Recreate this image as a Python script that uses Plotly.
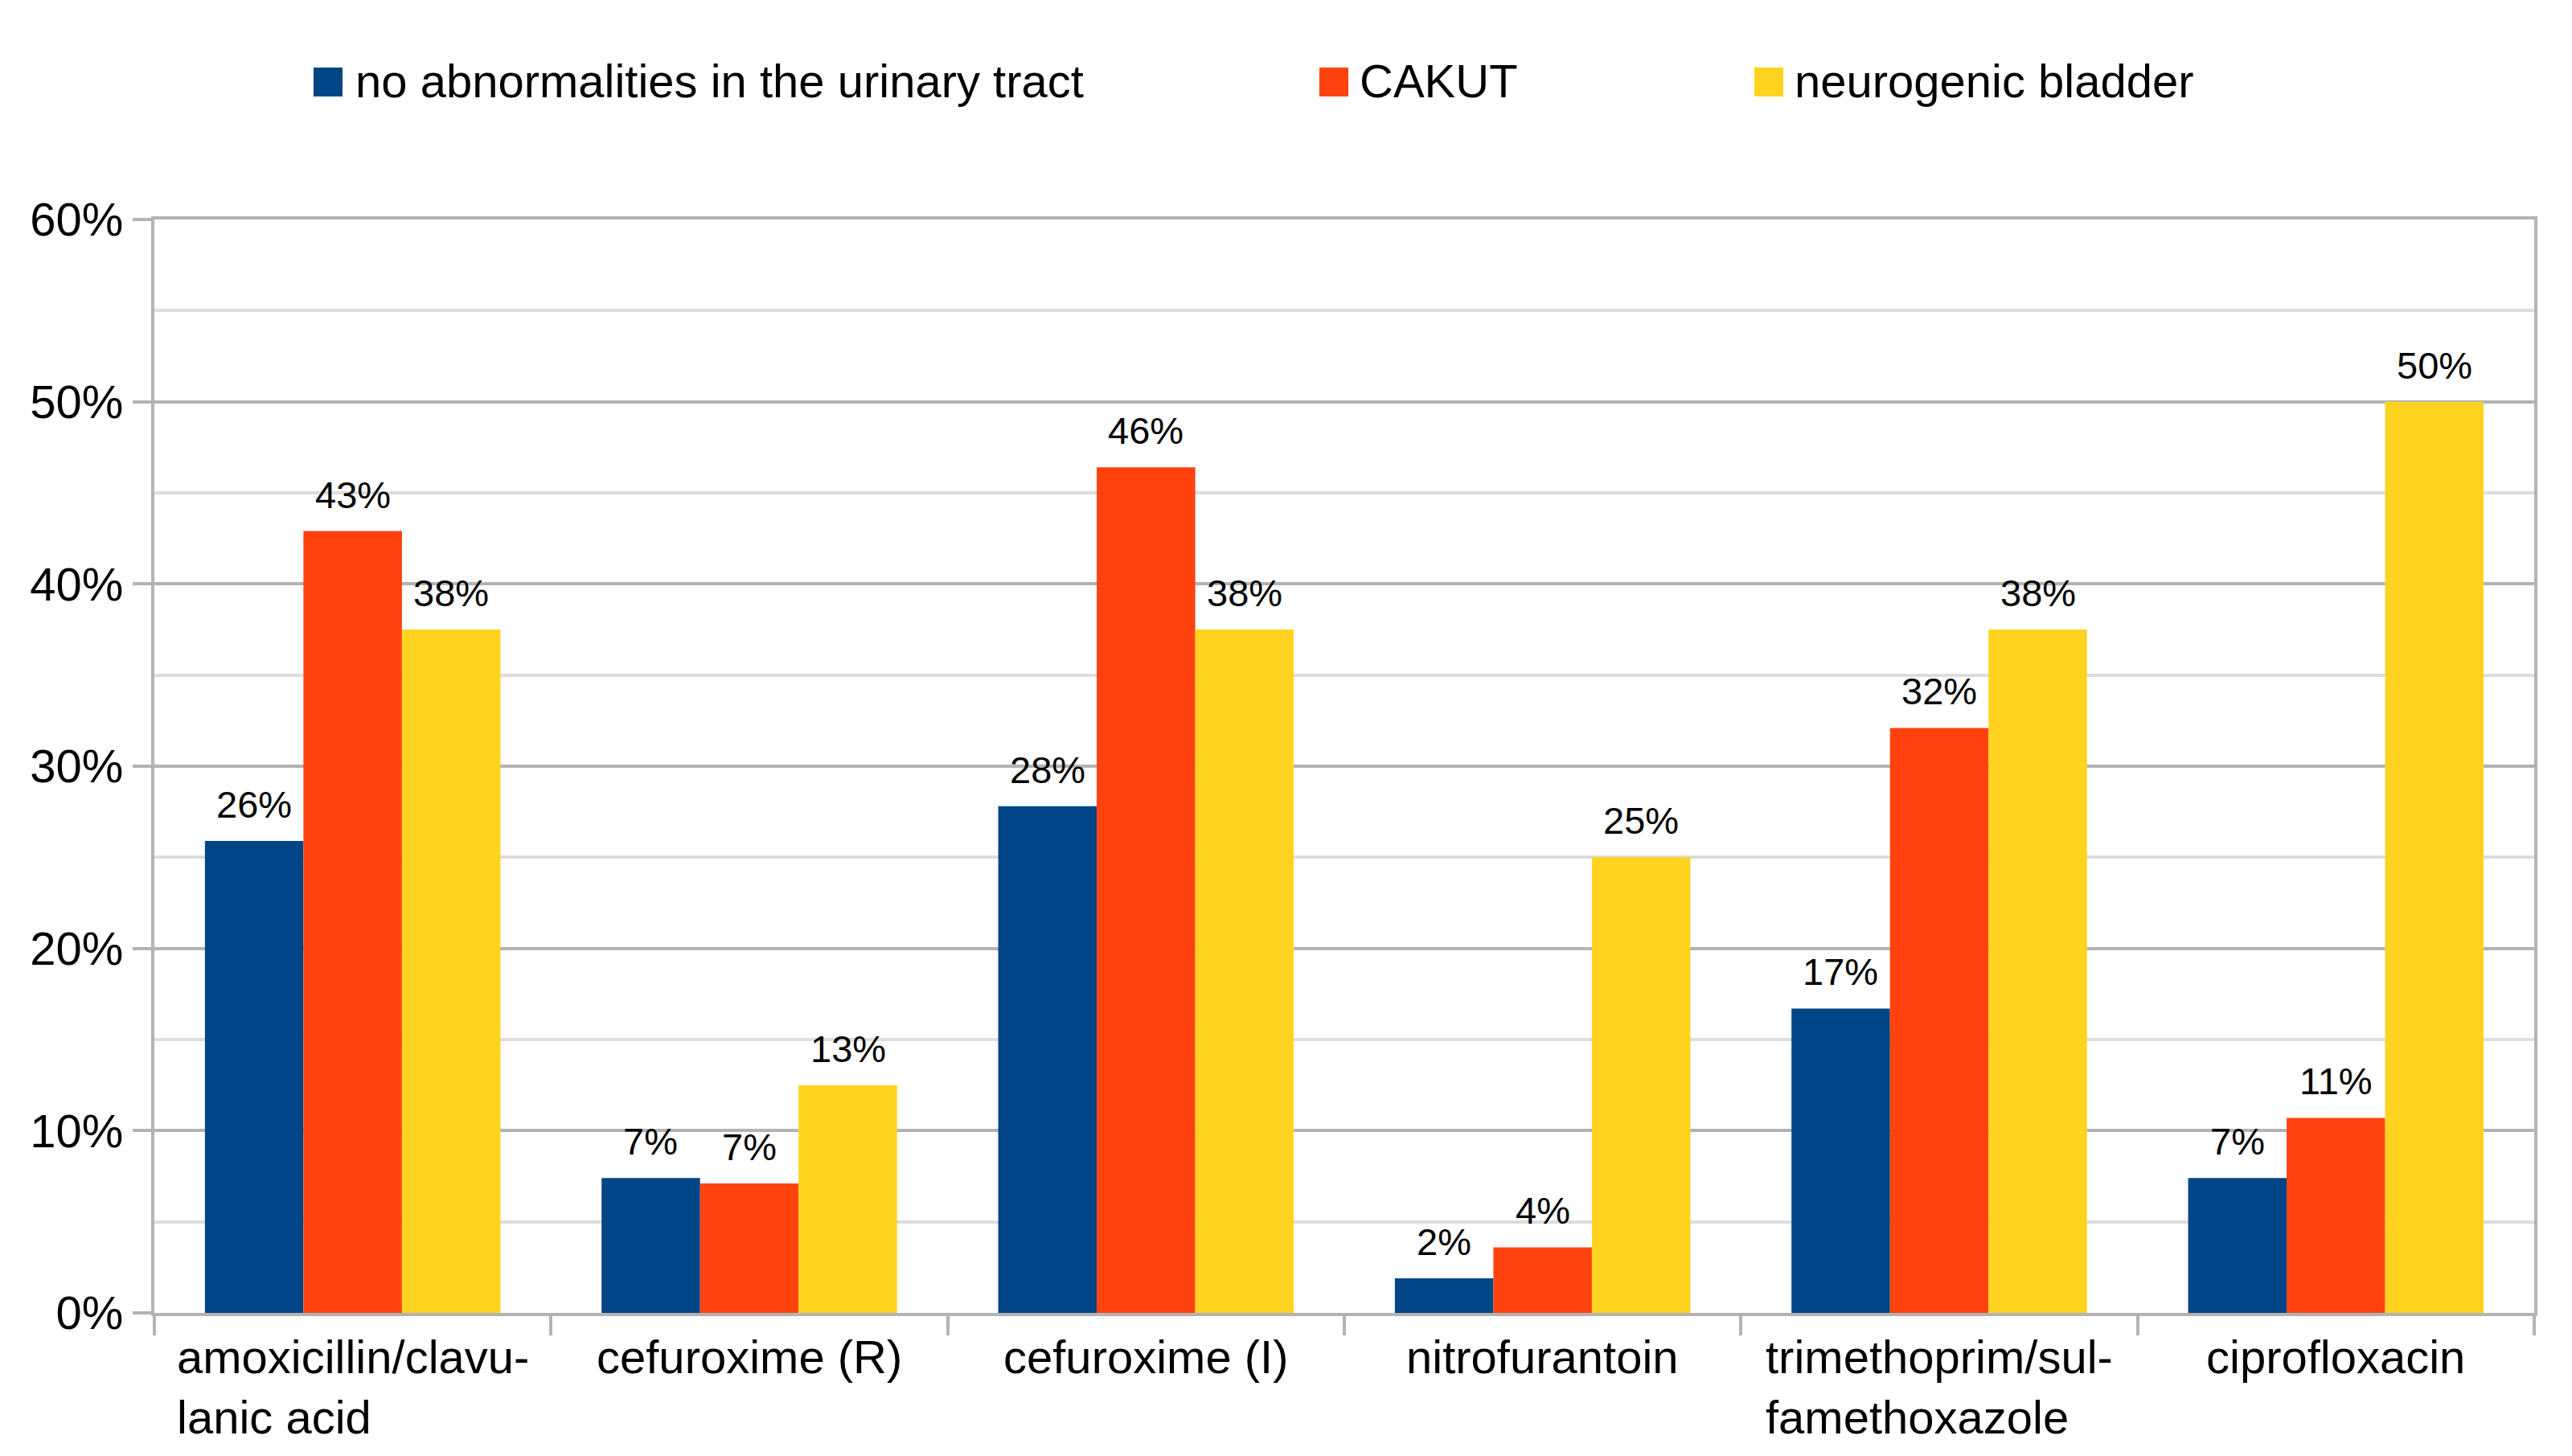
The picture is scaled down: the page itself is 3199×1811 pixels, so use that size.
import plotly.graph_objects as go

categories = ["amoxicillin/clavulanic acid", "cefuroxime (R)", "cefuroxime (I)",
              "nitrofurantoin", "trimethoprim/sulfamethoxazole", "ciprofloxacin"]
category_labels = ["amoxicillin/clavu-<br>lanic acid", "cefuroxime (R)", "cefuroxime (I)",
                   "nitrofurantoin", "trimethoprim/sul-<br>famethoxazole", "ciprofloxacin"]
series_names = ["no abnormalities in the urinary tract", "CAKUT", "neurogenic bladder"]
no_abnormalities = [0.259, 0.074, 0.278, 0.019, 0.167, 0.074]
cakut = [0.429, 0.071, 0.464, 0.036, 0.321, 0.107]
neurogenic_bladder = [0.375, 0.125, 0.375, 0.25, 0.375, 0.5]
y_tickvals = [0, 0.1, 0.2, 0.3, 0.4, 0.5, 0.6]

colors = ["#004586", "#ff420e", "#ffd320"]
FONT = "Liberation Sans"

W, H = 3199, 1811
ml, mr, mt, mb = 184, 55, 265, 186
pw = W - ml - mr
ph = H - mt - mb
BARGAP = 0.255

def px_x(p):
    return (p - ml) / pw

def px_y(p):
    return (H - mb - p) / ph

series = [no_abnormalities, cakut, neurogenic_bladder]
nser = len(series)
bw = (1 - BARGAP) / nser

fig = go.Figure()
annotations = []
shapes = []
for i, (name, vals, col) in enumerate(zip(series_names, series, colors)):
    fig.add_trace(go.Bar(
        x=categories, y=vals, name=name,
        marker=dict(color=col, line=dict(width=0)),
        showlegend=False,
    ))
    # value labels above each bar
    for j, v in enumerate(vals):
        annotations.append(dict(
            x=j + (i - (nser - 1) / 2) * bw, xref="x", y=v, yref="y",
            yanchor="bottom", xanchor="center", yshift=17,
            text=f"{round(v * 100 + 1e-9):.0f}%", showarrow=False,
            font=dict(family=FONT, size=47, color="#000000"),
        ))

# legend (squares + labels)
leg_sq = [382, 1633, 2174]
leg_txt = [432, 1681, 2222]
for name, col, sx, tx in zip(series_names, colors, leg_sq, leg_txt):
    shapes.append(dict(type="rect", xref="paper", yref="paper",
                       x0=px_x(sx), x1=px_x(sx + 36), y0=px_y(112), y1=px_y(76),
                       fillcolor=col, line=dict(width=0)))
    annotations.append(dict(x=px_x(tx), y=px_y(92), xref="paper", yref="paper",
                            xanchor="left", yanchor="middle", text=name, showarrow=False,
                            font=dict(family=FONT, size=58, color="#000000")))

for cat, lab in zip(categories, category_labels):
    annotations.append(dict(
        x=cat, xref="x", y=0, yref="paper", yanchor="top", xanchor="center",
        yshift=-20, text=lab, align="left", showarrow=False,
        font=dict(family=FONT, size=58, color="#000000"),
    ))

fig.update_layout(
    width=W, height=H,
    margin=dict(l=ml, r=mr, t=mt, b=mb),
    paper_bgcolor="white", plot_bgcolor="white",
    barmode="group", bargap=BARGAP, bargroupgap=0,
    showlegend=False,
    font=dict(family=FONT, size=58, color="#000000"),
    annotations=annotations,
    shapes=shapes,
    xaxis=dict(
        showticklabels=False, ticks="outside", tickson="boundaries",
        ticklen=24, tickwidth=4, tickcolor="#b3b3b3",
        showline=True, linecolor="#b3b3b3", linewidth=4, mirror=True,
        showgrid=False,
    ),
    yaxis=dict(
        range=[0, 0.6], tickvals=y_tickvals, tickformat=".0%",
        ticks="outside", ticklen=23, tickwidth=4, tickcolor="#b3b3b3",
        ticklabelstandoff=0,
        tickfont=dict(family=FONT, size=58, color="#000000"),
        showline=True, linecolor="#b3b3b3", linewidth=4, mirror=True,
        showgrid=True, gridcolor="#b3b3b3", gridwidth=4, zeroline=False,
        minor=dict(dtick=0.05, showgrid=True, gridcolor="#dddddd", gridwidth=4, ticks=""),
    ),
)

fig.write_html("out.html")
